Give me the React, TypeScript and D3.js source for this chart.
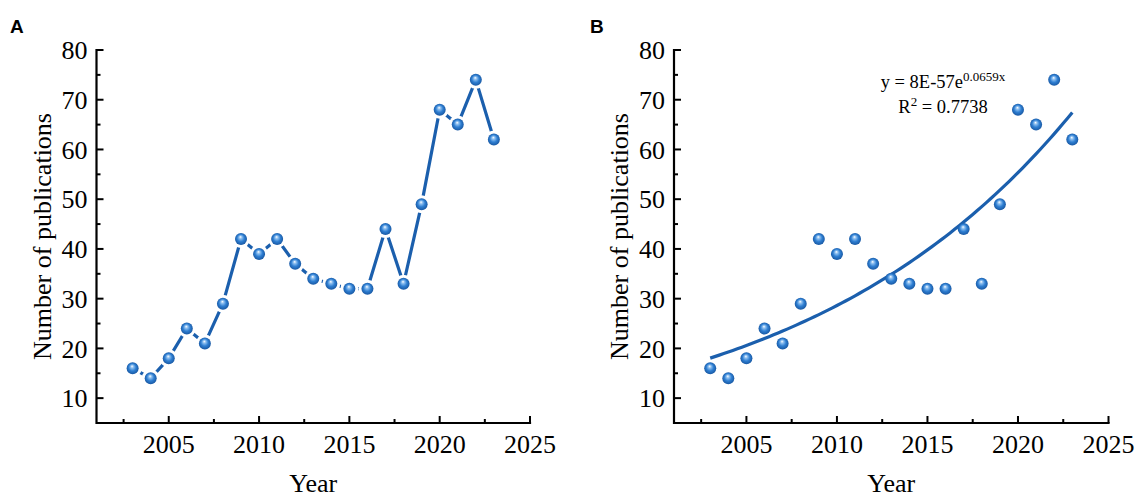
import React from "react";
import * as d3 from "d3";

const years = [2003, 2004, 2005, 2006, 2007, 2008, 2009, 2010, 2011, 2012, 2013, 2014, 2015, 2016, 2017, 2018, 2019, 2020, 2021, 2022, 2023];
const counts = [16, 14, 18, 24, 21, 29, 42, 39, 42, 37, 34, 33, 32, 32, 44, 33, 49, 68, 65, 74, 62];
const xMajorTicks = [2005, 2010, 2015, 2020, 2025];
const xMinorTicks = [2002.5, 2007.5, 2012.5, 2017.5, 2022.5];
const yMajorTicks = [10, 20, 30, 40, 50, 60, 70, 80];
const yMinorTicks = [15, 25, 35, 45, 55, 65, 75];
const eqLabel = "y = 8E-57e";
const eqExp = "0.0659x";
const r2Label = "R";
const r2Value = " = 0.7738";

const LINE = "#1b5fad";
const SERIF = "'Liberation Serif', 'Times New Roman', serif";
const SANS = "'Liberation Sans', Arial, sans-serif";

// exponential fit (log-linear least squares) from data
function expFit() {
  const n = years.length;
  const ly = counts.map((c) => Math.log(c));
  const mx = d3.mean(years) as number;
  const my = d3.mean(ly) as number;
  let sxy = 0, sxx = 0;
  for (let i = 0; i < n; i++) {
    sxy += (years[i] - mx) * (ly[i] - my);
    sxx += (years[i] - mx) ** 2;
  }
  const b = sxy / sxx;
  return (x: number) => Math.exp(my + b * (x - mx));
}

function Panel({ left, right, label, labelX, showLine, showFit }: any) {
  const top = 50, bottom = 423;
  const x = d3.scaleLinear().domain([2001, 2025]).range([left, right]);
  const y = d3.scaleLinear().domain([5, 80]).range([bottom, top]);
  const pts = years.map((yr, i) => [x(yr), y(counts[i])] as [number, number]);
  const line = d3.line()(pts) as string;
  let fitPath = "";
  if (showFit) {
    const f = expFit();
    const fx = d3.range(2003, 2023.001, 0.25);
    fitPath = d3.line<number>().x((v) => x(v)).y((v) => y(f(v)))(fx) as string;
  }
  const gid = "ball" + label;
  const cx = (left + right) / 2;
  const cy = (top + bottom) / 2;
  return (
    <g>
      <defs>
        <radialGradient id={gid} cx="50%" cy="50%" r="55%" fx="45%" fy="32%">
          <stop offset="0%" stopColor="#ffffff" />
          <stop offset="22%" stopColor="#8fc0f0" />
          <stop offset="55%" stopColor="#2f7fd2" />
          <stop offset="100%" stopColor="#14519b" />
        </radialGradient>
      </defs>
      <text x={labelX} y={33} fontFamily={SANS} fontWeight="bold" fontSize={19}>{label}</text>
      {/* axes */}
      <path d={`M${left},${top}V${bottom}H${right}`} fill="none" stroke="#000" strokeWidth={2.2} strokeLinecap="square" />
      {yMajorTicks.map((t) => (
        <g key={"ym" + t}>
          <line x1={left} x2={left + 7} y1={y(t)} y2={y(t)} stroke="#000" strokeWidth={2} />
          <text x={left - 9} y={y(t)} dy="0.35em" textAnchor="end" fontFamily={SERIF} fontSize={26}>{t}</text>
        </g>
      ))}
      {yMinorTicks.map((t) => (
        <line key={"yn" + t} x1={left} x2={left + 4} y1={y(t)} y2={y(t)} stroke="#000" strokeWidth={2} />
      ))}
      {xMajorTicks.map((t) => (
        <g key={"xm" + t}>
          <line x1={x(t)} x2={x(t)} y1={bottom} y2={bottom - 7} stroke="#000" strokeWidth={2} />
          <text x={x(t)} y={453} textAnchor="middle" fontFamily={SERIF} fontSize={26}>{t}</text>
        </g>
      ))}
      {xMinorTicks.map((t) => (
        <line key={"xn" + t} x1={x(t)} x2={x(t)} y1={bottom} y2={bottom - 4} stroke="#000" strokeWidth={2} />
      ))}
      <text x={cx} y={492} textAnchor="middle" fontFamily={SERIF} fontSize={26}>Year</text>
      <text transform={`translate(${left - 46},${cy}) rotate(-90)`} textAnchor="middle" fontFamily={SERIF} fontSize={26}>Number of publications</text>
      {showLine && <path d={line} fill="none" stroke={LINE} strokeWidth={3.2} strokeLinejoin="round" />}
      {showLine && pts.map((p, i) => <circle key={"w" + i} cx={p[0]} cy={p[1]} r={9} fill="#fff" />)}
      {showFit && <path d={fitPath} fill="none" stroke={LINE} strokeWidth={3.2} />}
      {pts.map((p, i) => (
        <circle key={"c" + i} cx={p[0]} cy={p[1]} r={6} fill={`url(#${gid})`} />
      ))}
      {showFit && (
        <g fontFamily={SERIF} fontSize={18.5} textAnchor="middle">
          <text x={943} y={88}>
            {eqLabel}
            <tspan fontSize={13} dy={-7}>{eqExp}</tspan>
          </text>
          <text x={943} y={113}>
            {r2Label}
            <tspan fontSize={13} dy={-7}>2</tspan>
            <tspan dy={7}>{r2Value}</tspan>
          </text>
        </g>
      )}
    </g>
  );
}

export default function App() {
  return (
    <svg width={1137} height={500} style={{ position: "absolute", left: 0, top: 0, background: "#fff" }}>
      <rect width={1137} height={500} fill="#fff" />
      <Panel left={96.5} right={530} label="A" labelX={10} showLine={true} showFit={false} />
      <Panel left={674} right={1108.5} label="B" labelX={590} showLine={false} showFit={true} />
    </svg>
  );
}
